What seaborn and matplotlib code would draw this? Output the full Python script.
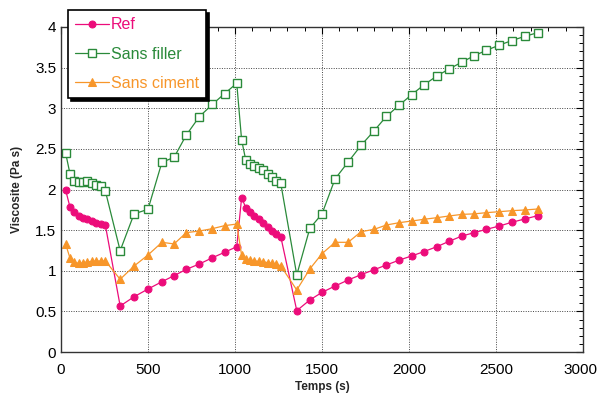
import numpy as np
import pandas as pd
import matplotlib
matplotlib.use("Agg")
import matplotlib.pyplot as plt
import matplotlib.transforms as mtransforms
import seaborn as sns
from matplotlib.ticker import MultipleLocator

temps = [27, 52, 77, 102, 127, 152, 177, 202, 228, 255,
         340, 420, 500, 580, 650, 720, 795, 870, 940, 1010,
         1038, 1062, 1087, 1112, 1138, 1163, 1188, 1213, 1238, 1263,
         1355, 1430, 1500, 1575, 1650, 1725, 1800, 1870, 1945, 2015,
         2085, 2160, 2230, 2305, 2375, 2445, 2520, 2590, 2665, 2740]

ref = [1.99, 1.78, 1.72, 1.68, 1.655, 1.635, 1.61, 1.59, 1.58, 1.56,
       0.566, 0.68, 0.775, 0.865, 0.94, 1.017, 1.083, 1.16, 1.227, 1.296,
       1.90, 1.776, 1.727, 1.678, 1.637, 1.584, 1.542, 1.493, 1.452, 1.42,
       0.509, 0.64, 0.734, 0.812, 0.886, 0.952, 1.013, 1.071, 1.132, 1.182,
       1.235, 1.296, 1.362, 1.428, 1.469, 1.51, 1.551, 1.596, 1.637, 1.678]

sans_filler = [2.445, 2.19, 2.10, 2.09, 2.09, 2.105, 2.08, 2.06, 2.04, 1.98,
               1.247, 1.70, 1.756, 2.335, 2.396, 2.67, 2.896, 3.048, 3.18, 3.307,
               2.61, 2.36, 2.31, 2.29, 2.27, 2.24, 2.19, 2.16, 2.10, 2.076,
               0.948, 1.522, 1.70, 2.13, 2.338, 2.544, 2.724, 2.90, 3.04, 3.167,
               3.286, 3.397, 3.483, 3.569, 3.647, 3.713, 3.778, 3.832, 3.885, 3.93]

sans_ciment = [1.325, 1.153, 1.104, 1.09, 1.095, 1.11, 1.115, 1.12, 1.12, 1.12,
               0.895, 1.058, 1.194, 1.35, 1.33, 1.469, 1.489, 1.518, 1.555, 1.575,
               1.19, 1.14, 1.13, 1.12, 1.115, 1.11, 1.10, 1.09, 1.08, 1.06,
               0.763, 1.022, 1.21, 1.35, 1.35, 1.481, 1.51, 1.563, 1.592, 1.612,
               1.633, 1.653, 1.674, 1.694, 1.70, 1.715, 1.727, 1.739, 1.748, 1.76]

series_names = ["Ref", "Sans filler", "Sans ciment"]
colors = {"Ref": "#EC0C7A", "Sans filler": "#2A8A3A", "Sans ciment": "#F7962A"}

df = pd.concat([
    pd.DataFrame({"Temps": temps, "Visc": ref, "serie": "Ref"}),
    pd.DataFrame({"Temps": temps, "Visc": sans_filler, "serie": "Sans filler"}),
    pd.DataFrame({"Temps": temps, "Visc": sans_ciment, "serie": "Sans ciment"}),
])

sns.set_style("white")
plt.rcParams["font.family"] = ["Liberation Sans", "DejaVu Sans"]

fig = plt.figure(figsize=(5.98, 3.96), dpi=100)
ax = fig.add_axes([61/598, 1 - 352/396, (583-61)/598, (352-27)/396])

styles = {
    "Ref": dict(marker="o", ms=5, mfc=colors["Ref"], mec=colors["Ref"]),
    "Sans filler": dict(marker="s", ms=5.5, mfc="white", mec=colors["Sans filler"], mew=1.0),
    "Sans ciment": dict(marker="^", ms=5.5, mfc=colors["Sans ciment"], mec=colors["Sans ciment"]),
}
handles = []
for name in series_names:
    sub = df[df["serie"] == name]
    sns.lineplot(data=sub, x="Temps", y="Visc", ax=ax, color=colors[name],
                 lw=0.9, sort=False, estimator=None, legend=False,
                 **styles[name])
    handles.append(ax.lines[-1])

ax.set_xlim(0, 3000)
ax.set_ylim(0, 4)
ax.set_xticks([0, 500, 1000, 1500, 2000, 2500, 3000])
ax.xaxis.set_minor_locator(MultipleLocator(100))
ax.yaxis.set_minor_locator(MultipleLocator(0.1))
ax.set_yticks([0, 0.5, 1, 1.5, 2, 2.5, 3, 3.5, 4])
ax.set_yticklabels(["0", "0.5", "1", "1.5", "2", "2.5", "3", "3.5", "4"])
ax.grid(True, which="major", color="#444444", ls=(0, (1, 1.5)), lw=0.7)
ax.tick_params(which="both", direction="in", top=True, right=True, labelsize=11, colors="black")
ax.tick_params(which="major", length=5, width=0.8)
ax.tick_params(which="minor", length=3, width=0.7)
ax.tick_params(axis="x", pad=8)
for s in ax.spines.values():
    s.set_color("#333333")
    s.set_linewidth(1.0)

# keep the last x tick label inside the canvas
last = ax.get_xticklabels()[-1]
last.set_transform(last.get_transform() +
                   mtransforms.ScaledTranslation(-3/100, 0, fig.dpi_scale_trans))

ax.set_xlabel("Temps (s)", fontsize=8.5, fontweight="bold", labelpad=3)
ax.set_ylabel("Viscosite (Pa s)", fontsize=8.5, fontweight="bold", labelpad=9)

leg = fig.legend(handles, series_names, loc="upper left",
                 bbox_to_anchor=(68/598, 1 - 10/396), borderaxespad=0,
                 frameon=True, fontsize=11.5, handlelength=2.1,
                 handletextpad=0.15, labelspacing=0.9, borderpad=0.45,
                 fancybox=False,
                 shadow={"color": "black", "alpha": 1.0})
leg.get_frame().set_edgecolor("black")
leg.get_frame().set_linewidth(1.2)
for txt, name in zip(leg.get_texts(), series_names):
    txt.set_color(colors[name])

fig.savefig("out.png", dpi=100, facecolor="white")
